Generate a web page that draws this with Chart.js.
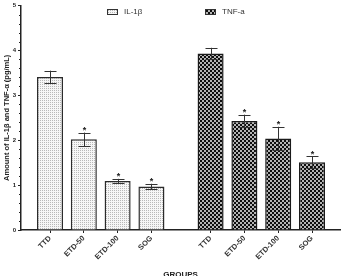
<!DOCTYPE html>
<html>
<head>
<meta charset="utf-8">
<script src="https://cdn.jsdelivr.net/npm/chart.js@4/dist/chart.umd.min.js"></script>
<style>
  html, body { margin: 0; padding: 0; background: #fff; }
  #wrap { width: 341px; height: 276px; }
</style>
</head>
<body>
<div id="wrap"><canvas id="chart" width="341" height="276"></canvas></div>
<script>
// data
const groupLabels = ['TTD', 'ETD-50', 'ETD-100', 'SOG'];
const ilPositions = [1, 2, 3, 4];
const tnfPositions = [5.75, 6.75, 7.75, 8.75];
const ilValues = [3.41, 2.02, 1.09, 0.97];
const ilErrors = [0.14, 0.15, 0.05, 0.06];
const tnfValues = [3.93, 2.43, 2.04, 1.51];
const tnfErrors = [0.13, 0.14, 0.26, 0.13];
const ilSignificant = [false, true, true, true];
const tnfSignificant = [false, true, true, true];
const yTicks = [0, 1, 2, 3, 4, 5];

const FONT = '"Liberation Sans", Arial, sans-serif';

function makePattern(kind) {
    const c = document.createElement('canvas');
    const g = c.getContext('2d');
    if (kind === 'dots') {
        c.width = 2; c.height = 2;
        g.fillStyle = '#f6f6f6';
        g.fillRect(0, 0, 2, 2);
        g.fillStyle = '#b8b8b8';
        g.fillRect(0, 0, 1, 1);
    } else {
        c.width = 4; c.height = 4;
        g.fillStyle = '#b4b4b4';
        g.fillRect(0, 0, 4, 4);
        g.fillStyle = '#0e0e0e';
        g.fillRect(0, 0, 2, 2);
        g.fillRect(2, 2, 2, 2);
    }
    return g.createPattern(c, 'repeat');
}

const ctx = document.getElementById('chart').getContext('2d');
const ilFill = makePattern('dots');
const tnfFill = makePattern('check');

const allPositions = ilPositions.concat(tnfPositions);
const allLabels = groupLabels.concat(groupLabels);

const extras = {
    id: 'extras',
    afterDatasetsDraw(chart) {
        const c = chart.ctx;
        const x = chart.scales.x;
        const y = chart.scales.y;
        const area = chart.chartArea;
        c.save();

        // error bars and asterisks
        const series = [
            [ilPositions, ilValues, ilErrors, ilSignificant],
            [tnfPositions, tnfValues, tnfErrors, tnfSignificant]
        ];
        c.strokeStyle = '#333';
        c.lineWidth = 1;
        series.forEach(([pos, vals, errs, sig]) => {
            pos.forEach((p, i) => {
                const px = Math.round(x.getPixelForValue(p)) + 0.5;
                const top = y.getPixelForValue(vals[i] + errs[i]);
                const bot = y.getPixelForValue(vals[i] - errs[i]);
                c.beginPath();
                c.moveTo(px, top); c.lineTo(px, bot);
                c.moveTo(px - 6, Math.round(top) + 0.5); c.lineTo(px + 6, Math.round(top) + 0.5);
                c.moveTo(px - 6, Math.round(bot) + 0.5); c.lineTo(px + 6, Math.round(bot) + 0.5);
                c.stroke();
                if (sig[i]) {
                    c.fillStyle = '#222';
                    c.font = 'bold 9px ' + FONT;
                    c.textAlign = 'center';
                    c.textBaseline = 'alphabetic';
                    c.fillText('*', px, top + 0.5);
                }
            });
        });

        // minor ticks on the y axis
        c.strokeStyle = '#222';
        c.lineWidth = 1;
        for (let k = 0; k <= 25; k++) {
            if (k % 5 === 0) continue;
            const py = Math.round(y.getPixelForValue(k / 5)) + 0.5;
            c.beginPath();
            c.moveTo(area.left - 2, py); c.lineTo(area.left, py);
            c.stroke();
        }

        // legend
        const legend = [[107, ilFill, 'IL-1\u03b2'], [205, tnfFill, 'TNF-a']];
        legend.forEach(([lx, fill, text]) => {
            c.fillStyle = fill;
            c.fillRect(lx, 9, 10, 5);
            c.strokeStyle = '#333';
            c.lineWidth = 1;
            c.strokeRect(lx + 0.5, 9.5, 10, 5);
            c.fillStyle = '#333';
            c.font = '8px ' + FONT;
            c.textAlign = 'left';
            c.textBaseline = 'middle';
            c.fillText(text, lx + 17, 12);
        });

        // axis titles
        c.fillStyle = '#222';
        c.font = 'bold 7.5px ' + FONT;
        c.textAlign = 'center';
        c.textBaseline = 'middle';
        c.save();
        c.translate(7, (area.top + area.bottom) / 2);
        c.rotate(-Math.PI / 2);
        c.fillText('Amount of IL-1\u03b2 and TNF-\u03b1 (pg/mL)', 0, 0);
        c.restore();
        c.font = 'bold 8px ' + FONT;
        c.textBaseline = 'top';
        c.fillText('GROUPS', (area.left + area.right) / 2, 271);
        c.restore();
    }
};

new Chart(ctx, {
    type: 'bar',
    data: {
        datasets: [
            {
                label: 'IL-1\u03b2',
                data: ilPositions.map((p, i) => ({ x: p, y: ilValues[i] })),
                backgroundColor: ilFill,
                borderColor: '#2b2b2b',
                borderWidth: 1.5
            },
            {
                label: 'TNF-a',
                data: tnfPositions.map((p, i) => ({ x: p, y: tnfValues[i] })),
                backgroundColor: tnfFill,
                borderColor: '#1a1a1a',
                borderWidth: 1.5
            }
        ]
    },
    options: {
        responsive: false,
        animation: false,
        events: [],
        datasets: {
            bar: { grouped: false, barPercentage: 0.77, categoryPercentage: 1 }
        },
        layout: { padding: { left: 0, right: 1, top: 2, bottom: 0 } },
        plugins: {
            legend: { display: false },
            tooltip: { enabled: false }
        },
        scales: {
            x: {
                type: 'linear',
                offset: false,
                min: 0.142,
                max: 9.578,
                afterBuildTicks(scale) {
                    scale.ticks = allPositions.map(v => ({ value: v }));
                },
                afterFit(scale) { scale.height = 46; },
                border: { color: '#222', width: 1.5 },
                grid: { drawOnChartArea: false, drawTicks: true, tickLength: 3, color: '#222', offset: false },
                ticks: {
                    autoSkip: false,
                    minRotation: 45,
                    maxRotation: 45,
                    padding: 1,
                    color: '#333',
                    font: { family: FONT, size: 7.5, weight: 'bold' },
                    callback: (value, index) => allLabels[index]
                }
            },
            y: {
                min: 0,
                max: 5,
                afterBuildTicks(scale) {
                    scale.ticks = yTicks.map(v => ({ value: v }));
                },
                afterFit(scale) { scale.width = 21; },
                border: { color: '#222', width: 1.5 },
                grid: { drawOnChartArea: false, drawTicks: true, tickLength: 3, color: '#222' },
                ticks: {
                    padding: 2,
                    color: '#222',
                    font: { family: FONT, size: 6, weight: 'bold' }
                }
            }
        }
    },
    plugins: [extras]
});
</script>
</body>
</html>
